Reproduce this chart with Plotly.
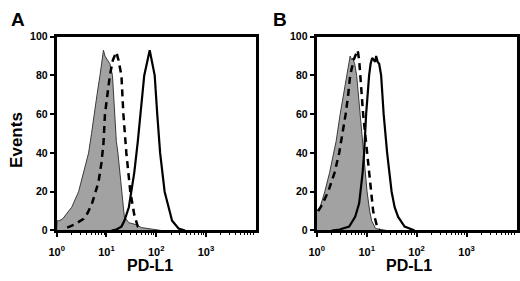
import plotly.graph_objects as go

# ---- data (PD-L1 fluorescence intensity vs events) ----
# Panel A
a_iso_x = [1.00, 1.02, 1.12, 1.32, 1.51, 2.00, 2.75, 3.47, 4.37, 5.01, 5.62, 6.46, 7.41, 8.13, 8.71,
           9.33, 10.5, 11.7, 13.2, 14.8, 15.8, 17.0, 20.0, 22.9, 28.2, 39.8, 50.1, 70.8, 97.7, 126]
a_iso_y = [0, 5, 5, 6, 8, 12, 20, 30, 40, 50, 60, 70, 80, 88, 93,
           90, 88, 86, 80, 60, 46, 40, 20, 7, 4, 3, 1.5, 1, 0.5, 0]
a_dash_x = [1.62, 2.24, 3.47, 4.17, 5.13, 6.03, 6.92, 7.94, 8.71, 9.33, 10.5, 11.7, 13.5, 15.8,
            17.4, 20.0, 21.9, 25.1, 30.2, 36.3, 42.7, 50.1]
a_dash_y = [1.5, 3, 6, 9, 14, 20, 25, 35, 45, 60, 70, 80, 88, 92, 88, 80, 60, 40, 20, 8, 2, 0.5]
a_sol_x = [12.6, 15.8, 20.0, 22.9, 28.2, 31.6, 36.3, 42.7, 47.9, 57.5, 74.1, 93.3, 105, 115, 120,
           148, 209, 282, 380]
a_sol_y = [0, 0.5, 2, 5, 12, 20, 30, 46, 60, 80, 93, 80, 60, 46, 40, 20, 5, 1, 0]

# Panel B
b_iso_x = [1.00, 1.17, 1.45, 1.82, 2.19, 2.45, 2.95, 3.31, 3.63, 3.98, 4.37, 4.68, 5.01, 5.25, 5.75,
           6.31, 7.41, 8.32, 8.71, 10.2, 11.5, 12.6, 15.1, 20.4, 25.1]
b_iso_y = [10, 12, 20, 30, 40, 46, 60, 68, 72, 80, 87, 90, 88, 89, 86,
           80, 60, 46, 40, 20, 10, 5, 1, 0.5, 0]
b_dash_x = [1.07, 1.26, 1.70, 2.29, 2.82, 3.31, 3.80, 4.27, 4.68, 5.50, 6.61, 7.08, 7.41, 8.51,
            9.33, 10.2, 11.2, 12.0, 13.5, 15.1, 16.6, 18.2]
b_dash_y = [10, 13, 20, 30, 40, 50, 60, 70, 80, 88, 93, 88, 80, 60, 50, 40, 30, 20, 10, 5, 1, 0]
b_sol_x = [2.00, 2.88, 4.47, 5.89, 7.08, 7.59, 8.32, 8.91, 9.77, 11.2, 12.0, 12.9, 13.8, 14.8, 15.5,
           16.6, 17.8, 19.5, 21.9, 25.7, 31.6, 36.3, 42.7, 57.5, 91.2]
b_sol_y = [0, 0.5, 2, 7, 14, 20, 30, 40, 60, 80, 86, 89, 88, 87, 90,
           87, 86, 80, 60, 40, 20, 12, 7, 2, 0]

x_tickvals = [1, 10, 100, 1000]
x_ticktext = ["10<sup>0</sup>", "10<sup>1</sup>", "10<sup>2</sup>", "10<sup>3</sup>"]
y_tickvals = [0, 20, 40, 60, 80, 100]
minor_vals = [m * d for d in (1, 10, 100, 1000) for m in range(2, 10)]

W, H = 520, 281
FONT = "Liberation Sans, Arial, sans-serif"

fig = go.Figure()

def add_panel(xs, ys, xd, yd, xsol, ysol, xa, ya):
    fig.add_trace(go.Scatter(x=xs, y=ys, mode="lines", fill="tozeroy",
                             fillcolor="#a2a2a2", line=dict(color="#3a3a3a", width=1),
                             xaxis=xa, yaxis=ya, showlegend=False))
    fig.add_trace(go.Scatter(x=xd, y=yd, mode="lines",
                             line=dict(color="black", width=2.5, dash="7px,5px"),
                             xaxis=xa, yaxis=ya, showlegend=False))
    fig.add_trace(go.Scatter(x=xsol, y=ysol, mode="lines",
                             line=dict(color="black", width=2.2),
                             xaxis=xa, yaxis=ya, showlegend=False))

add_panel(a_iso_x, a_iso_y, a_dash_x, a_dash_y, a_sol_x, a_sol_y, "x", "y")
add_panel(b_iso_x, b_iso_y, b_dash_x, b_dash_y, b_sol_x, b_sol_y, "x2", "y2")

ydom = [(H - 234.5) / H, (H - 32) / H]

def xaxis_cfg(dom, anchor):
    return dict(type="log", range=[0, 4], domain=dom, anchor=anchor,
                showline=True, mirror=True, linecolor="black", linewidth=3,
                showgrid=False, zeroline=False,
                tickmode="array", tickvals=x_tickvals, ticktext=x_ticktext,
                ticks="outside", ticklen=4, tickwidth=1.5, tickcolor="black",
                ticklabelstandoff=5,
                minor=dict(tickmode="array", tickvals=minor_vals, ticks="outside",
                           ticklen=2, tickwidth=1, tickcolor="black"),
                tickfont=dict(family=FONT, size=11, color="black", weight="bold"))

def yaxis_cfg(anchor):
    return dict(range=[0, 100], domain=ydom, anchor=anchor,
                showline=True, mirror=True, linecolor="black", linewidth=3,
                showgrid=False, zeroline=False,
                tickmode="array", tickvals=y_tickvals,
                ticks="outside", ticklen=4, tickwidth=1.5, tickcolor="black",
                tickfont=dict(family=FONT, size=10.5, color="black", weight="bold"))

fig.update_layout(
    width=W, height=H,
    margin=dict(l=0, r=0, t=0, b=0),
    paper_bgcolor="white", plot_bgcolor="white",
    xaxis=xaxis_cfg([49.5 / W, 251.5 / W], "y"),
    yaxis=yaxis_cfg("x"),
    xaxis2=xaxis_cfg([313.5 / W, 516.5 / W], "y2"),
    yaxis2=yaxis_cfg("x2"),
)

def ann(text, x, y, size, angle=0):
    fig.add_annotation(text=text, x=x / W, y=1 - y / H, xref="paper", yref="paper",
                       showarrow=False, xanchor="center", yanchor="middle", textangle=angle,
                       font=dict(family=FONT, size=size, color="black", weight="bold"))

ann("A", 10, 14, 19)
ann("B", 276, 14, 19)
ann("Events", 8, 140, 17, -90)
ann("PD-L1", 144, 271, 16)
ann("PD-L1", 407, 271, 16)

fig.write_html("out.html",
               config={"displayModeBar": False},
               post_script="document.body.style.margin='0';document.body.style.overflow='hidden';")
